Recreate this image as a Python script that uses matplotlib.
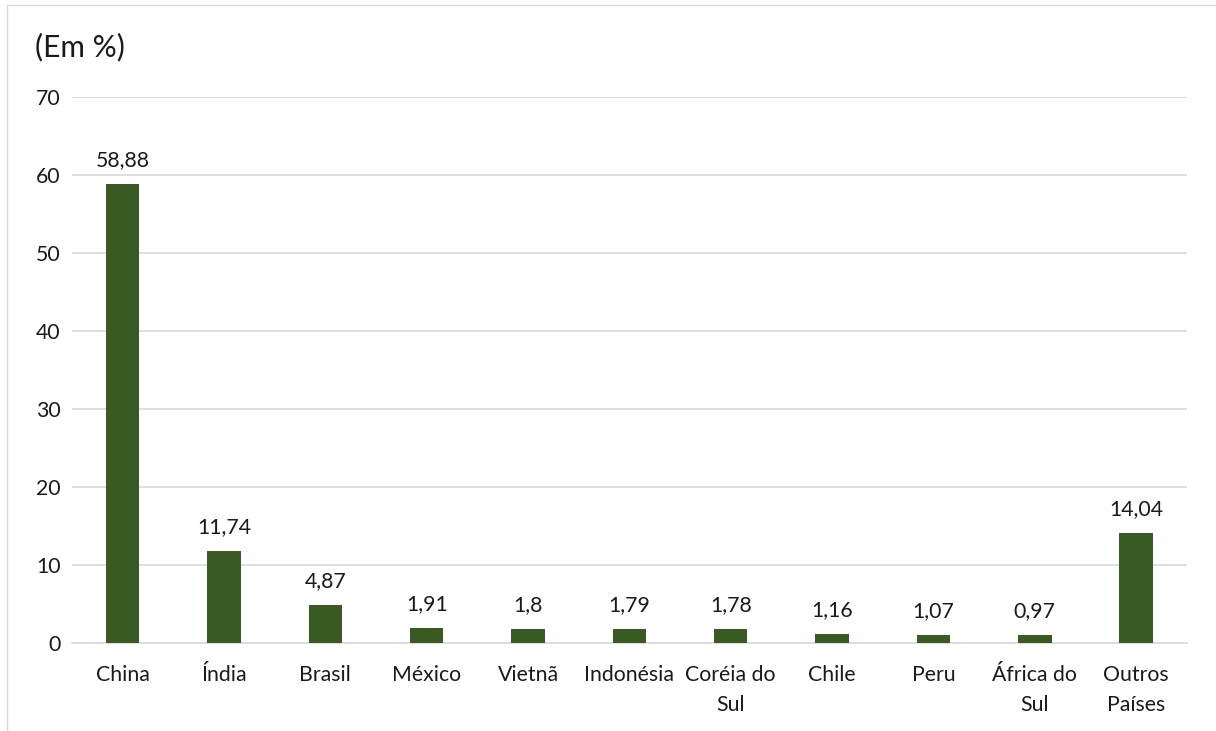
import matplotlib
matplotlib.use("Agg")
import matplotlib.pyplot as plt
from matplotlib.lines import Line2D

# dados
paises = ["China", "Índia", "Brasil", "México", "Vietnã", "Indonésia",
          "Coréia do\nSul", "Chile", "Peru", "África do\nSul", "Outros\nPaíses"]
valores = [58.88, 11.74, 4.87, 1.91, 1.8, 1.79, 1.78, 1.16, 1.07, 0.97, 14.04]
rotulos = ["58,88", "11,74", "4,87", "1,91", "1,8", "1,79", "1,78", "1,16", "1,07", "0,97", "14,04"]
yticks = [0, 10, 20, 30, 40, 50, 60, 70]

plt.rcParams['font.family'] = ['Lato', 'DejaVu Sans']
fs = 15.3

fig = plt.figure(figsize=(12.16, 7.31), dpi=100)
ax = fig.add_axes([0.0592, 0.1204, 0.9168, 0.7469])

x = range(len(paises))
ax.bar(x, valores, width=0.33, color="#3a5a24", zorder=3)

for i, (v, r) in enumerate(zip(valores, rotulos)):
    ax.annotate(r, (i, v), xytext=(0, 10), textcoords="offset points",
                ha="center", va="bottom", fontsize=fs, color="#1a1a1a")

ax.set_xlim(-0.5, len(paises) - 0.5)
ax.set_ylim(0, 70)
ax.set_yticks(yticks)
ax.set_yticklabels([str(t) for t in yticks], fontsize=fs, color="#1a1a1a")
ax.set_xticks(list(x))
ax.set_xticklabels(paises, fontsize=fs, color="#1a1a1a", linespacing=1.6)
ax.tick_params(axis="both", length=0)
ax.tick_params(axis="y", pad=8)
ax.tick_params(axis="x", pad=16)

ax.grid(axis="y", color="#d9d9d9", linewidth=1.2, zorder=0)
for s in ["top", "right", "left"]:
    ax.spines[s].set_visible(False)
ax.spines["bottom"].set_color("#d9d9d9")
ax.spines["bottom"].set_linewidth(1.2)

fig.text(0.029, 0.935, "(Em %)", fontsize=21.5, color="#1a1a1a", va="center")

# borda do gráfico
fig.add_artist(Line2D([0.006, 1.0], [0.993, 0.993], color="#d9d9d9", linewidth=1))
fig.add_artist(Line2D([0.006, 0.006], [0.0, 0.993], color="#d9d9d9", linewidth=1))

fig.savefig("out.png", dpi=100)
